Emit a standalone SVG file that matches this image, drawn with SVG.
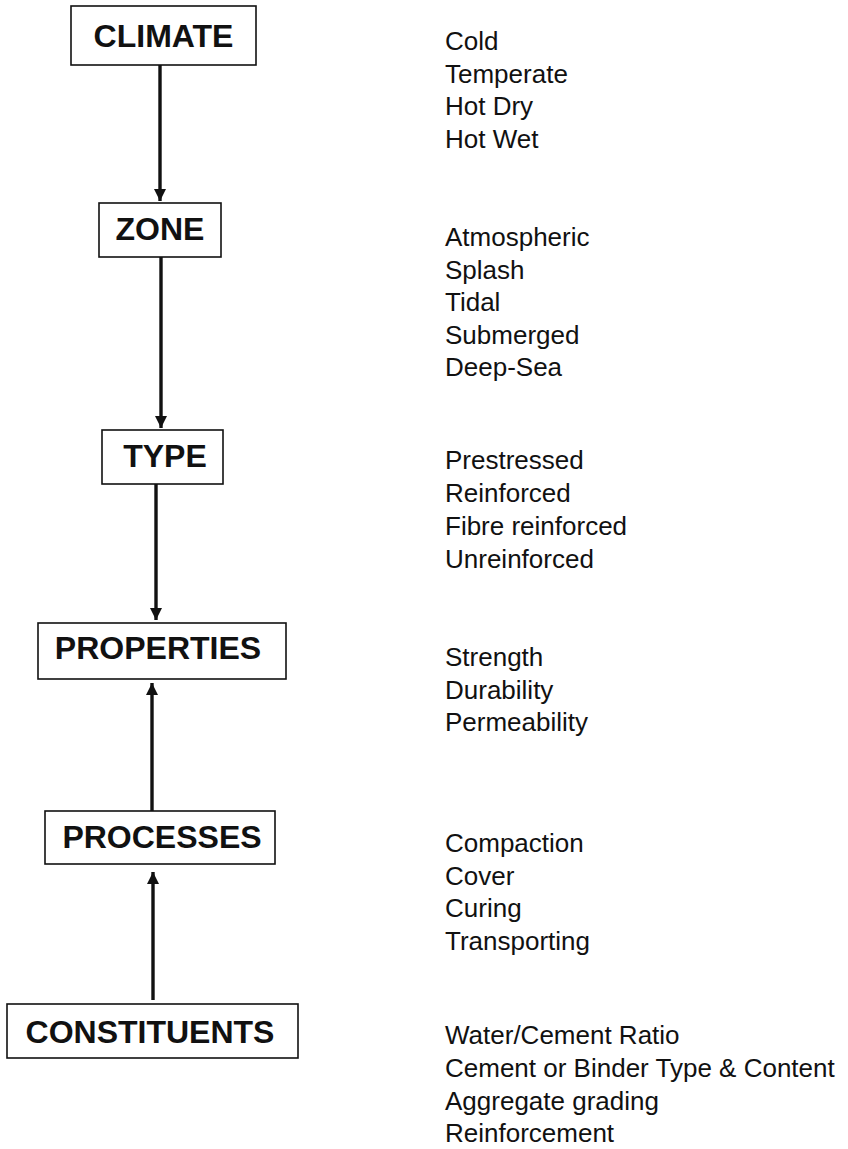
<svg xmlns="http://www.w3.org/2000/svg" width="848" height="1149" viewBox="0 0 848 1149">
<defs>
<style>
.box{fill:#fff;stroke:#111;stroke-width:1.6}
.lbl{font-family:"Liberation Sans",Arial,sans-serif;font-weight:bold;font-size:32px;fill:#111;text-anchor:middle}
.item{font-family:"Liberation Sans",Arial,sans-serif;font-size:26px;fill:#111}
.conn{stroke:#111;stroke-width:3.4;fill:none}
</style>
<marker id="ah" markerUnits="userSpaceOnUse" markerWidth="14" markerHeight="16" refX="12" refY="6" orient="auto" viewBox="0 0 14 12">
<path d="M0,0 L12,6 L0,12 Z" fill="#111"/>
</marker>
</defs>
<rect width="848" height="1149" fill="#fff"/>
<g id="connectors">
<line class="conn" x1="160" y1="65" x2="160" y2="201" marker-end="url(#ah)"/>
<line class="conn" x1="161" y1="257" x2="161" y2="428" marker-end="url(#ah)"/>
<line class="conn" x1="156" y1="484" x2="156" y2="620" marker-end="url(#ah)"/>
<line class="conn" x1="152" y1="811" x2="152" y2="683" marker-end="url(#ah)"/>
<line class="conn" x1="153" y1="1000" x2="153" y2="872" marker-end="url(#ah)"/>
</g>
<g id="climate">
<rect class="box" x="71" y="6" width="185" height="59"/>
<text class="lbl" x="163.5" y="47">CLIMATE</text>
<text class="item" x="445"><tspan x="445" y="50">Cold</tspan><tspan x="445" y="82.5">Temperate</tspan><tspan x="445" y="115">Hot Dry</tspan><tspan x="445" y="147.5">Hot Wet</tspan></text>
</g>
<g id="zone">
<rect class="box" x="99" y="203" width="122" height="54"/>
<text class="lbl" x="160" y="240">ZONE</text>
<text class="item" x="445"><tspan x="445" y="246">Atmospheric</tspan><tspan x="445" y="278.5">Splash</tspan><tspan x="445" y="311">Tidal</tspan><tspan x="445" y="343.5">Submerged</tspan><tspan x="445" y="376">Deep-Sea</tspan></text>
</g>
<g id="type">
<rect class="box" x="102" y="430" width="121" height="54"/>
<text class="lbl" x="165" y="467">TYPE</text>
<text class="item" x="445"><tspan x="445" y="469">Prestressed</tspan><tspan x="445" y="502">Reinforced</tspan><tspan x="445" y="535">Fibre reinforced</tspan><tspan x="445" y="568">Unreinforced</tspan></text>
</g>
<g id="properties">
<rect class="box" x="38" y="623" width="248" height="56"/>
<text class="lbl" x="158" y="659">PROPERTIES</text>
<text class="item" x="445"><tspan x="445" y="666">Strength</tspan><tspan x="445" y="699">Durability</tspan><tspan x="445" y="731">Permeability</tspan></text>
</g>
<g id="processes">
<rect class="box" x="45" y="811" width="230" height="53"/>
<text class="lbl" x="162" y="848">PROCESSES</text>
<text class="item" x="445"><tspan x="445" y="852">Compaction</tspan><tspan x="445" y="885">Cover</tspan><tspan x="445" y="917">Curing</tspan><tspan x="445" y="950">Transporting</tspan></text>
</g>
<g id="constituents">
<rect class="box" x="7" y="1004" width="291" height="54"/>
<text class="lbl" x="150" y="1043">CONSTITUENTS</text>
<text class="item" x="445"><tspan x="445" y="1044">Water/Cement Ratio</tspan><tspan x="445" y="1077">Cement or Binder Type &amp; Content</tspan><tspan x="445" y="1110">Aggregate grading</tspan><tspan x="445" y="1142">Reinforcement</tspan></text>
</g>
</svg>
